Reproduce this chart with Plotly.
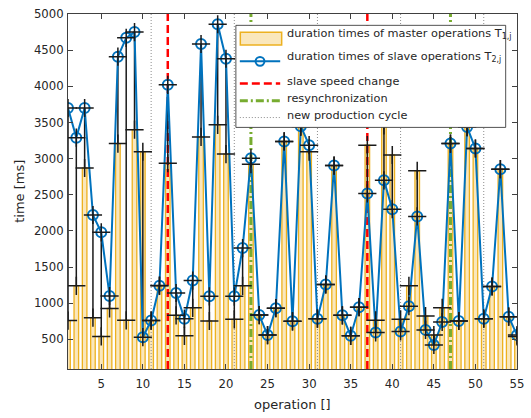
import plotly.graph_objects as go

# ---- data -----------------------------------------------------------------
operation = list(range(1, 56))

# duration of each master operation T1,j [ms]
master_ms = [760, 1240, 2870, 800, 540, 927, 3208, 763, 3400, 3095,
             760, 1245, 2936, 832, 549, 936, 3300, 754, 3467, 3063,
             777, 1240, 2922, 836, 559, 931, 3237, 750, 3440, 3095,
             786, 1259, 2904, 832, 549, 945, 3186, 763, 3460, 3050,
             777, 1240, 2832, 822, 559, 936, 3208, 754, 3436, 3140,
             786, 1231, 2854, 814, 541]

# duration of each slave operation T2,j [ms]
slave_ms = [3700, 3290, 3700, 2220, 1980, 1100, 4410, 4670, 4750, 530,
            760, 1240, 4020, 1141, 786, 1313, 4585, 1095, 4858, 4381,
            1095, 1763, 3004, 836, 559, 931, 3237, 750, 3448, 3186,
            786, 1259, 2904, 832, 549, 945, 2518, 596, 2700, 2300,
            609, 959, 2200, 631, 422, 740, 3208, 754, 3436, 3140,
            786, 1231, 2854, 814, 559]

speed_change_ops = [13, 37]
resync_ops = [23, 47]
new_cycle_ops = [11, 21, 31, 41, 51]

x_ticks = [5, 10, 15, 20, 25, 30, 35, 40, 45, 50, 55]
y_ticks = [500, 1000, 1500, 2000, 2500, 3000, 3500, 4000, 4500, 5000]

SUB = '<sub><span style="font-size:8px">{}</span></sub>'
legend_labels = [
    "duration times of master operations T" + SUB.format("1,j"),
    "duration times of slave operations T" + SUB.format("2,j"),
    "slave speed change",
    "resynchronization",
    "new production cycle",
]

# ---- style ----------------------------------------------------------------
X_RANGE = [1, 55]
Y_RANGE = [90, 5000]
FONT = "DejaVu Sans, Verdana, sans-serif"
INK = "#262626"
AXIS = "#404040"
ORANGE = "#EDB120"
ORANGE_FILL = "rgba(237,177,32,0.3)"
BLUE = "#0072BD"
RED = "#FF0000"
GREEN = "#77AC30"
GREY = "#8c8c8c"
RED_DASH = "8px,4px"
GREEN_DASH = "8px,3px,2px,3px"
GREY_DOT = "1px,2px"

W, H = 531, 418
M_L, M_R, M_T, M_B = 68, 7, 9, 49


def vline_xy(positions):
    xs, ys = [], []
    for p in positions:
        xs += [p, p, None]
        ys += [Y_RANGE[0], Y_RANGE[1], None]
    return xs, ys


fig = go.Figure()

# master durations as bars
fig.add_trace(go.Bar(
    x=operation, y=master_ms, width=0.55,
    marker=dict(color=ORANGE_FILL, line=dict(color=ORANGE, width=1.3)),
    showlegend=False,
))

# event markers (vertical lines)
for ops, color, dash, width in [
    (new_cycle_ops, GREY, GREY_DOT, 1),
    (speed_change_ops, RED, RED_DASH, 2.5),
    (resync_ops, GREEN, GREEN_DASH, 3),
]:
    xs, ys = vline_xy(ops)
    fig.add_trace(go.Scatter(
        x=xs, y=ys, mode="lines",
        line=dict(color=color, width=width, dash=dash),
        showlegend=False, hoverinfo="skip",
    ))

# black connectors between master and slave duration of the same operation
seg_x, seg_y = [], []
for o, t1, t2 in zip(operation, master_ms, slave_ms):
    seg_x += [o, o, None]
    seg_y += [t1, t2, None]
fig.add_trace(go.Scatter(
    x=seg_x, y=seg_y, mode="lines",
    line=dict(color="#1a1a1a", width=1.5),
    showlegend=False, hoverinfo="skip",
))

# slave durations
fig.add_trace(go.Scatter(
    x=operation, y=slave_ms, mode="lines+markers",
    line=dict(color=BLUE, width=2),
    marker=dict(symbol="circle-open", size=10, color=BLUE,
                line=dict(color=BLUE, width=2)),
    showlegend=False,
))

# '+' markers at both durations
fig.add_trace(go.Scatter(
    x=operation + operation, y=master_ms + slave_ms, mode="markers",
    marker=dict(symbol="cross-thin", size=13, color="#1a1a1a",
                line=dict(color="#1a1a1a", width=1.5)),
    showlegend=False, hoverinfo="skip",
))

# ---- legend box drawn in pixel space of the figure ------------------------
PW = W - M_L - M_R
PH = H - M_T - M_B


def px(x):
    return (x - M_L) / PW


def py(y):
    return (H - M_B - y) / PH


shapes = []
shapes.append(dict(type="rect", xref="paper", yref="paper",
                   x0=px(238.5), x1=px(512.5), y0=py(124), y1=py(20.5),
                   fillcolor="white", line=dict(color=INK, width=0.8),
                   layer="above"))
shapes.append(dict(type="rect", xref="paper", yref="paper",
                   x0=px(243), x1=px(285), y0=py(40.5), y1=py(27.5),
                   fillcolor=ORANGE_FILL, line=dict(color=ORANGE, width=1.5),
                   layer="above"))
LX0, LX1 = 242.5, 283.5
shapes.append(dict(type="line", xref="paper", yref="paper",
                   x0=px(LX0), x1=px(LX1), y0=py(57), y1=py(57),
                   line=dict(color=BLUE, width=2), layer="above"))
shapes.append(dict(type="circle", xref="paper", yref="paper",
                   x0=px(263 - 4.5), x1=px(263 + 4.5),
                   y0=py(57 + 4.5), y1=py(57 - 4.5),
                   line=dict(color=BLUE, width=2), layer="above"))
for yy, color, dash, width in [(79.5, RED, RED_DASH, 2.5),
                               (97, GREEN, GREEN_DASH, 3),
                               (114, GREY, GREY_DOT, 1)]:
    shapes.append(dict(type="line", xref="paper", yref="paper",
                       x0=px(LX0), x1=px(LX1), y0=py(yy), y1=py(yy),
                       line=dict(color=color, width=width, dash=dash),
                       layer="above"))

annotations = []
for label, yy in zip(legend_labels, [29, 53, 77, 94.5, 111.5]):
    annotations.append(dict(
        text=label, xref="paper", yref="paper", x=px(288), y=py(yy),
        xanchor="left", yanchor="middle", showarrow=False,
        font=dict(family=FONT, size=11.3, color=INK),
    ))

# axis titles
annotations.append(dict(
    text="time [ms]", xref="paper", yref="paper", x=px(18.5), y=0.5,
    xanchor="center", yanchor="middle", textangle=-90, showarrow=False,
    font=dict(family=FONT, size=13, color=INK),
))
annotations.append(dict(
    text="operation []", xref="paper", yref="paper", x=0.5, y=py(404.5),
    xanchor="center", yanchor="middle", showarrow=False,
    font=dict(family=FONT, size=13, color=INK),
))

axis_common = dict(
    showgrid=False, zeroline=False, showline=True, linecolor=AXIS,
    linewidth=1, mirror="ticks", ticks="inside", ticklen=5,
    tickcolor=AXIS, tickwidth=1,
    tickfont=dict(family=FONT, size=11.7, color=INK),
)

fig.update_layout(
    width=W, height=H,
    margin=dict(l=M_L, r=M_R, t=M_T, b=M_B),
    paper_bgcolor="white", plot_bgcolor="white",
    showlegend=False, barmode="overlay",
    xaxis=dict(range=X_RANGE, tickvals=x_ticks, ticklabelstandoff=4,
               **axis_common),
    yaxis=dict(range=Y_RANGE, tickvals=y_ticks, ticklabelstandoff=1,
               **axis_common),
    shapes=shapes, annotations=annotations,
    font=dict(family=FONT, color=INK),
)

fig.write_html("out.html")
